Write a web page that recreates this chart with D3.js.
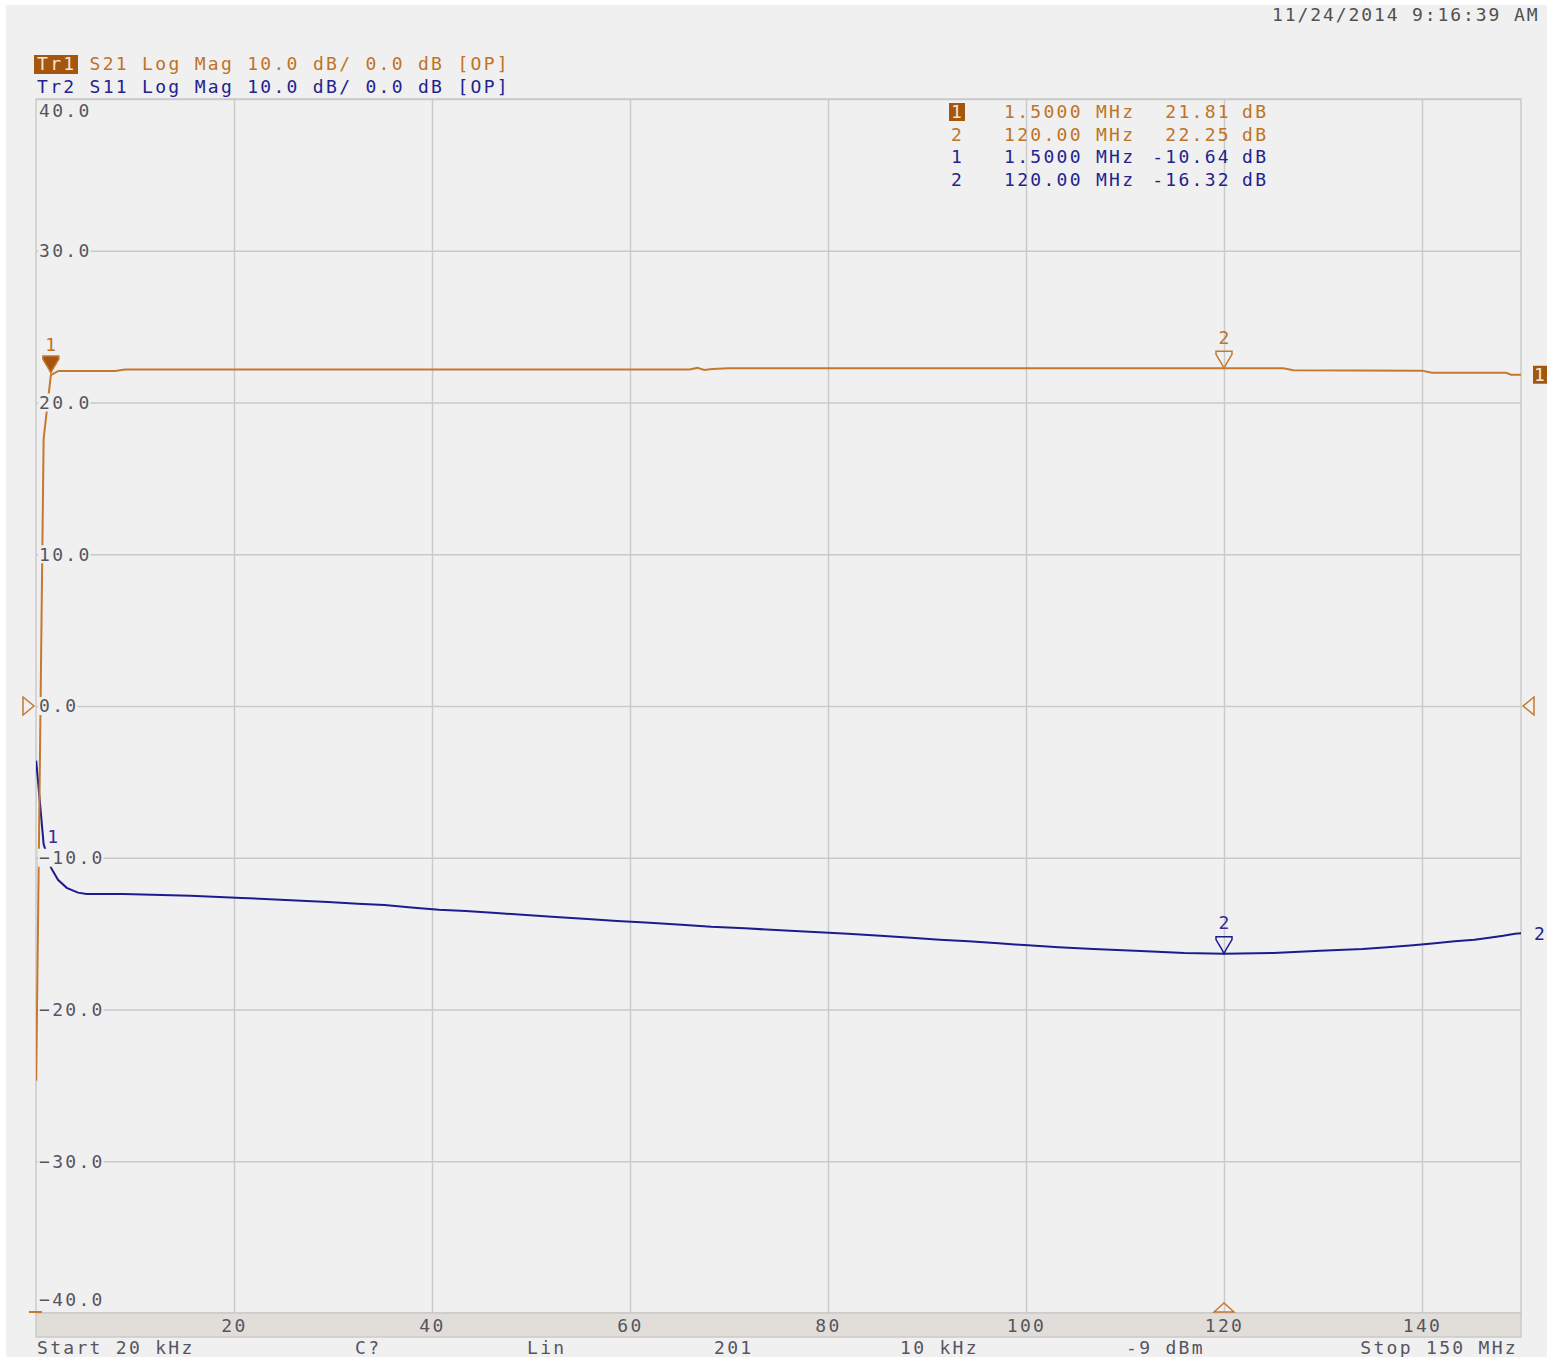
<!DOCTYPE html>
<html>
<head>
<meta charset="utf-8">
<script src="https://cdn.jsdelivr.net/npm/d3@7/dist/d3.min.js"></script>
<style>
  html, body { margin: 0; padding: 0; background: #ffffff; }
  svg text { font-family: "DejaVu Sans Mono", "Liberation Mono", monospace; font-size: 18px; letter-spacing: 2.3px; white-space: pre; }
</style>
</head>
<body>
<svg id="chart" width="1547" height="1357"></svg>
<script>
// ---------------- DATA ----------------
const xTicks = [20, 40, 60, 80, 100, 120, 140];
const yTicks = [40, 30, 20, 10, 0, -10, -20, -30, -40];

// Trace 1: S21 (frequency MHz, dB)
const s21Freq = [0.02, 0.77, 1.5, 2.27, 8, 9, 66, 66.8, 67.5, 68.3, 70, 112, 126, 127, 140, 141, 148.5, 149, 150];
const s21Val  = [-24.7, 17.6, 21.81, 22.08, 22.08, 22.17, 22.18, 22.28, 22.15, 22.20, 22.25, 22.26, 22.25, 22.12, 22.10, 21.96, 21.96, 21.83, 21.83];

// Trace 2: S11 (frequency MHz, dB)
const s11Freq = [0.02, 0.77, 1.5, 2.22, 3.1, 4.24, 5.1, 8.8, 15.6, 20.8, 25.2, 29.5, 32.5, 35.2, 38.2, 40.7, 43.4, 46.5, 49.5, 52.5, 55.7, 58.7, 62.0, 65.2, 68.2, 71.6, 75.2, 78.6, 82.0, 85.3, 88.4, 91.3, 94.2, 97.2, 100.2, 103.3, 106.8, 111.6, 116, 120, 125, 129.7, 134.0, 136.5, 139.1, 141.3, 143.3, 145.3, 146.8, 148.2, 149.4, 150];
const s11Val  = [-3.6, -9.1, -10.64, -11.45, -11.98, -12.3, -12.39, -12.39, -12.50, -12.65, -12.78, -12.92, -13.03, -13.11, -13.29, -13.42, -13.51, -13.64, -13.77, -13.90, -14.04, -14.17, -14.28, -14.41, -14.55, -14.65, -14.78, -14.89, -15.01, -15.14, -15.27, -15.40, -15.51, -15.64, -15.77, -15.90, -16.01, -16.14, -16.28, -16.32, -16.28, -16.13, -16.01, -15.90, -15.77, -15.64, -15.51, -15.40, -15.27, -15.14, -15.01, -14.98];

// Markers
const markerNums  = ["1", "2", "1", "2"];
const markerFreqs = ["1.5000 MHz", "120.00 MHz", "1.5000 MHz", "120.00 MHz"];
const markerVals  = ["21.81", "22.25", "-10.64", "-16.32"];
const markerTrace = [1, 1, 2, 2];
const markerF = [1.5, 120, 1.5, 120];
const markerDb = [21.81, 22.25, -10.64, -16.32];

const headerLines = ["Tr1 S21 Log Mag 10.0 dB/ 0.0 dB [OP]", "Tr2 S11 Log Mag 10.0 dB/ 0.0 dB [OP]"];
const footerItems = ["Start 20 kHz", "C?", "Lin", "201", "10 kHz", "-9 dBm", "Stop 150 MHz"];
const dateText = "11/24/2014 9:16:39 AM";

// ---------------- LAYOUT ----------------
const W = 1547, H = 1357;
const L = 36, R = 1521, T = 99, B = 1313;
const ORANGE = "#c47a2e", ORANGE_TXT = "#bf7326", BADGE = "#a4560e";
const BLUE = "#1c1c8e", BLUE_TXT = "#23238f";
const GRID = "#cacaca", LABEL = "#555560", BG = "#f0f0f0";

const svg = d3.select("#chart");
svg.append("rect").attr("width", W).attr("height", H).attr("fill", "#ffffff");
svg.append("rect").attr("x", 6).attr("y", 5).attr("width", W - 6).attr("height", H - 5).attr("fill", BG);

const x = d3.scaleLinear().domain([0, 150]).range([L, R]);
const y = d3.scaleLinear().domain([-40, 40]).range([B, T]);

// grid lines via axes
const gx = svg.append("g").attr("transform", `translate(0,${B})`)
  .call(d3.axisBottom(x).tickValues(xTicks).tickSize(-(B - T)).tickFormat(""));
gx.select(".domain").remove();
gx.selectAll("line").attr("stroke", GRID).attr("stroke-width", 1.5);

const gy = svg.append("g").attr("transform", `translate(${L},0)`)
  .call(d3.axisLeft(y).tickValues(yTicks).tickSize(-(R - L)).tickFormat(""));
gy.select(".domain").remove();
gy.selectAll("line").attr("stroke", GRID).attr("stroke-width", 1.5);

// frame
svg.append("rect").attr("x", L).attr("y", T).attr("width", R - L).attr("height", B - T)
  .attr("fill", "none").attr("stroke", GRID).attr("stroke-width", 1.5);

// clip
svg.append("clipPath").attr("id", "plotclip").append("rect")
  .attr("x", L).attr("y", T).attr("width", R - L).attr("height", B - T);

const line = d3.line().x(d => x(d[0])).y(d => y(d[1]));
const s21 = s21Freq.map((f, i) => [f, s21Val[i]]);
const s11 = s11Freq.map((f, i) => [f, s11Val[i]]);

const traces = svg.append("g").attr("clip-path", "url(#plotclip)");
traces.append("path").datum(s11).attr("d", line).attr("fill", "none").attr("stroke", BLUE).attr("stroke-width", 2);
traces.append("path").datum(s21).attr("d", line).attr("fill", "none").attr("stroke", ORANGE).attr("stroke-width", 2);

// y tick labels (with background boxes, drawn over traces)
yTicks.forEach(v => {
  let cy = y(v);
  if (v === 40) cy = T + 12;
  if (v === -40) cy = B - 13;
  const txt = d3.format(".1f")(v);
  const w = txt.length * 13.1;
  svg.append("rect").attr("x", L + 2).attr("y", cy - 9).attr("width", w).attr("height", 18).attr("fill", BG);
  svg.append("text").attr("x", L + 3).attr("y", cy).attr("dy", "0.36em").attr("fill", LABEL).text(txt);
});

// bottom band with x tick labels
svg.append("rect").attr("x", L).attr("y", B).attr("width", R - L).attr("height", 24)
  .attr("fill", "#e1ded9").attr("stroke", GRID).attr("stroke-width", 1.5);
const gxl = svg.append("g").attr("transform", `translate(0,${B + 13})`)
  .call(d3.axisBottom(x).tickValues(xTicks).tickSize(0).tickPadding(0).tickFormat(d3.format("d")));
gxl.select(".domain").remove();
gxl.selectAll("text").attr("y", 0).attr("dy", "0.36em").attr("fill", LABEL)
  .style("font-size", "18px").style("font-family", "\"DejaVu Sans Mono\", monospace");

// footer
const footerX = [37, 355, 527, 714, 900, 1126, 1518];
footerItems.forEach((t, i) => {
  svg.append("text").attr("x", footerX[i]).attr("y", 1348).attr("dy", "0.36em")
    .attr("text-anchor", i === footerItems.length - 1 ? "end" : "start")
    .attr("fill", LABEL).text(t);
});

// header
svg.append("rect").attr("x", 34).attr("y", 55).attr("width", 44).attr("height", 19).attr("fill", BADGE);
const h1 = svg.append("text").attr("x", 37).attr("y", 64).attr("dy", "0.36em").attr("fill", ORANGE_TXT);
h1.append("tspan").attr("fill", "#f4e6d8").text(headerLines[0].slice(0, 3));
h1.append("tspan").text(headerLines[0].slice(3));
svg.append("text").attr("x", 37).attr("y", 87).attr("dy", "0.36em").attr("fill", BLUE_TXT).text(headerLines[1]);

// date
svg.append("text").attr("x", 1272).attr("y", 15).attr("dy", "0.36em").attr("fill", "#505050")
  .style("letter-spacing", "1.9px").text(dateText);

// marker table
const rowY = [112, 135, 157, 180];
markerNums.forEach((n, i) => {
  const col = markerTrace[i] === 1 ? ORANGE_TXT : BLUE_TXT;
  if (i === 0) {
    svg.append("rect").attr("x", 949).attr("y", rowY[i] - 9).attr("width", 16).attr("height", 18).attr("fill", BADGE);
  }
  svg.append("text").attr("x", 951).attr("y", rowY[i]).attr("dy", "0.36em")
    .attr("fill", i === 0 ? "#f4e6d8" : col).text(n);
  svg.append("text").attr("x", 1004).attr("y", rowY[i]).attr("dy", "0.36em").attr("fill", col).text(markerFreqs[i]);
  svg.append("text").attr("x", 1231).attr("y", rowY[i]).attr("dy", "0.36em").attr("text-anchor", "end").attr("fill", col).text(markerVals[i]);
  svg.append("text").attr("x", 1242).attr("y", rowY[i]).attr("dy", "0.36em").attr("fill", col).text("dB");
});

// marker symbols on traces
const markerPath = "M-8,-17 L8,-17 L8,-14 L2,-4 L0,0 L-2,-4 L-8,-14 Z";
markerF.forEach((f, i) => {
  const col = markerTrace[i] === 1 ? ORANGE : BLUE;
  const px = x(f), py = y(markerDb[i]);
  const isActive = (i === 0);
  const hidden = (i === 2);
  if (!hidden) {
    svg.append("path").attr("d", markerPath)
      .attr("transform", `translate(${px},${isActive ? py - 2 : py})`)
      .attr("fill", isActive ? BADGE : "none")
      .attr("stroke", col).attr("stroke-width", 1.5);
  }
  const lx = hidden ? px + 3 : px + 1;
  svg.append("text").attr("x", lx).attr("y", py - 31).attr("dy", "0.36em").attr("text-anchor", "middle")
    .attr("fill", markerTrace[i] === 1 ? ORANGE_TXT : "#3a2a9a").text(markerNums[i]);
});

// reference level triangles
svg.append("path").attr("d", `M23,${y(0) - 9} L34,${y(0)} L23,${y(0) + 9} Z`)
  .attr("fill", "none").attr("stroke", ORANGE).attr("stroke-width", 1.5);
svg.append("path").attr("d", `M1534,${y(0) - 9} L1523,${y(0)} L1534,${y(0) + 9} Z`)
  .attr("fill", "none").attr("stroke", ORANGE).attr("stroke-width", 1.5);

// bottom marker position indicator
svg.append("path").attr("d", `M${x(120) - 10},${B - 1} L${x(120)},${B - 10} L${x(120) + 10},${B - 1} Z`)
  .attr("fill", "none").attr("stroke", ORANGE).attr("stroke-width", 1.5);
svg.append("line").attr("x1", 29).attr("x2", 42).attr("y1", B - 1).attr("y2", B - 1)
  .attr("stroke", ORANGE).attr("stroke-width", 2);

// trace end indicators on the right
const endY1 = y(s21Val[s21Val.length - 1]);
svg.append("rect").attr("x", 1533).attr("y", endY1 - 9).attr("width", 14).attr("height", 18).attr("fill", BADGE);
svg.append("text").attr("x", 1534).attr("y", endY1).attr("dy", "0.36em").attr("fill", "#f4e6d8")
  .style("letter-spacing", "0px").text("1");
const endY2 = y(s11Val[s11Val.length - 1]);
svg.append("text").attr("x", 1534).attr("y", endY2).attr("dy", "0.36em").attr("fill", BLUE_TXT)
  .style("letter-spacing", "0px").text("2");
</script>
</body>
</html>
